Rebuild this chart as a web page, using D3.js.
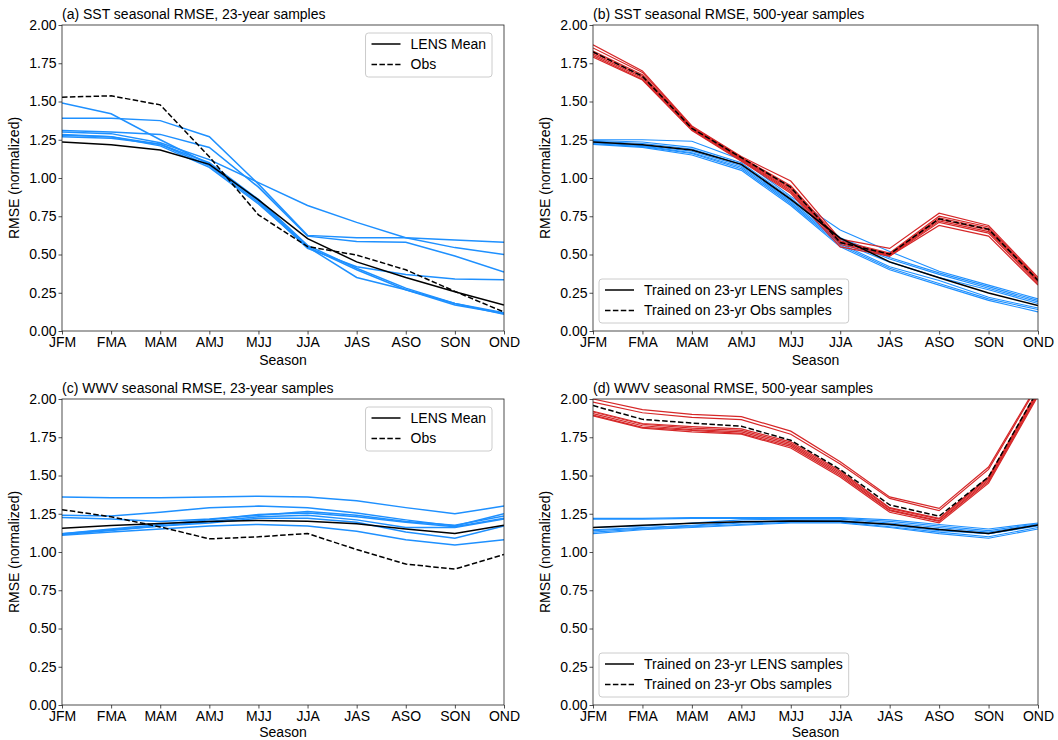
<!DOCTYPE html>
<html>
<head>
<meta charset="utf-8">
<script src="https://cdn.jsdelivr.net/npm/d3@7"></script>
<style>
  body { margin: 0; background: #fff; }
  text { font-family: "Liberation Sans", Arial, sans-serif; }
</style>
</head>
<body>
<div id="chart"></div>
<script>
const seasons = ["JFM", "FMA", "MAM", "AMJ", "MJJ", "JJA", "JAS", "ASO", "SON", "OND"];
const yTicks = [0, 0.25, 0.5, 0.75, 1.0, 1.25, 1.5, 1.75, 2.0];

// (a) SST, 23-year samples
const sst23Lens = [1.235, 1.217, 1.183, 1.089, 0.857, 0.604, 0.452, 0.35, 0.257, 0.17];
const sst23Obs = [1.528, 1.537, 1.478, 1.139, 0.759, 0.552, 0.496, 0.40, 0.259, 0.124];
const sst23Members = [
  [1.49, 1.42, 1.25, 1.09, 0.85, 0.55, 0.35, 0.27, 0.18, 0.11],
  [1.39, 1.39, 1.375, 1.27, 0.96, 0.625, 0.61, 0.61, 0.595, 0.58],
  [1.31, 1.30, 1.285, 1.20, 0.94, 0.62, 0.585, 0.58, 0.49, 0.385],
  [1.30, 1.29, 1.23, 1.12, 0.97, 0.82, 0.71, 0.61, 0.545, 0.50],
  [1.285, 1.27, 1.22, 1.08, 0.84, 0.54, 0.42, 0.37, 0.34, 0.335],
  [1.28, 1.27, 1.21, 1.07, 0.83, 0.55, 0.40, 0.27, 0.17, 0.115],
  [1.27, 1.26, 1.22, 1.10, 0.86, 0.56, 0.41, 0.28, 0.18, 0.12]
];

// (b) SST, 500-year samples
const sst500Lens = [1.235, 1.217, 1.183, 1.089, 0.86, 0.607, 0.452, 0.348, 0.248, 0.167];
const sst500Obs = [1.824, 1.665, 1.324, 1.133, 0.939, 0.578, 0.502, 0.733, 0.665, 0.33];
const sst500LensMembers = [
  [1.25, 1.25, 1.24, 1.12, 0.88, 0.66, 0.52, 0.39, 0.30, 0.21],
  [1.245, 1.235, 1.20, 1.10, 0.87, 0.61, 0.48, 0.38, 0.29, 0.20],
  [1.24, 1.225, 1.19, 1.09, 0.86, 0.60, 0.47, 0.37, 0.28, 0.19],
  [1.235, 1.215, 1.175, 1.08, 0.85, 0.58, 0.45, 0.35, 0.27, 0.18],
  [1.23, 1.21, 1.165, 1.07, 0.84, 0.57, 0.42, 0.33, 0.22, 0.15],
  [1.225, 1.205, 1.16, 1.06, 0.83, 0.56, 0.41, 0.31, 0.21, 0.14],
  [1.22, 1.20, 1.15, 1.05, 0.82, 0.55, 0.40, 0.30, 0.20, 0.125]
];
const sst500ObsMembers = [
  [1.87, 1.70, 1.34, 1.14, 0.98, 0.60, 0.54, 0.77, 0.69, 0.35],
  [1.85, 1.69, 1.335, 1.135, 0.95, 0.59, 0.51, 0.75, 0.68, 0.34],
  [1.83, 1.675, 1.33, 1.13, 0.94, 0.585, 0.505, 0.74, 0.67, 0.335],
  [1.82, 1.665, 1.325, 1.125, 0.93, 0.58, 0.50, 0.73, 0.66, 0.33],
  [1.81, 1.655, 1.32, 1.12, 0.92, 0.575, 0.495, 0.72, 0.65, 0.32],
  [1.80, 1.645, 1.315, 1.115, 0.91, 0.565, 0.49, 0.71, 0.64, 0.31],
  [1.79, 1.64, 1.31, 1.11, 0.90, 0.55, 0.49, 0.69, 0.62, 0.30]
];

// (c) WWV, 23-year samples
const wwv23Lens = [1.156, 1.173, 1.186, 1.199, 1.206, 1.201, 1.184, 1.151, 1.121, 1.175];
const wwv23Obs = [1.277, 1.23, 1.164, 1.086, 1.099, 1.121, 1.016, 0.921, 0.888, 0.984];
const wwv23Members = [
  [1.36, 1.355, 1.355, 1.36, 1.365, 1.36, 1.335, 1.29, 1.25, 1.30],
  [1.24, 1.235, 1.26, 1.29, 1.30, 1.29, 1.255, 1.21, 1.17, 1.25],
  [1.225, 1.215, 1.20, 1.215, 1.24, 1.265, 1.24, 1.20, 1.175, 1.235],
  [1.12, 1.15, 1.18, 1.21, 1.245, 1.255, 1.23, 1.195, 1.165, 1.22],
  [1.115, 1.14, 1.17, 1.20, 1.23, 1.24, 1.21, 1.16, 1.16, 1.215],
  [1.11, 1.13, 1.15, 1.17, 1.18, 1.17, 1.135, 1.08, 1.045, 1.08],
  [1.12, 1.145, 1.17, 1.19, 1.22, 1.22, 1.195, 1.13, 1.09, 1.17]
];

// (d) WWV, 500-year samples
const wwv500Lens = [1.16, 1.175, 1.188, 1.197, 1.203, 1.201, 1.182, 1.147, 1.121, 1.177];
const wwv500Obs = [1.957, 1.867, 1.843, 1.822, 1.73, 1.539, 1.308, 1.234, 1.491, 2.06];
const wwv500LensMembers = [
  [1.22, 1.22, 1.225, 1.225, 1.225, 1.225, 1.21, 1.18, 1.15, 1.19],
  [1.215, 1.215, 1.22, 1.22, 1.22, 1.22, 1.20, 1.17, 1.14, 1.185],
  [1.16, 1.17, 1.19, 1.21, 1.215, 1.215, 1.19, 1.16, 1.13, 1.18],
  [1.145, 1.16, 1.175, 1.195, 1.205, 1.205, 1.18, 1.15, 1.12, 1.175],
  [1.14, 1.155, 1.17, 1.19, 1.20, 1.20, 1.175, 1.14, 1.12, 1.17],
  [1.13, 1.15, 1.165, 1.18, 1.195, 1.195, 1.165, 1.13, 1.10, 1.16],
  [1.12, 1.145, 1.16, 1.175, 1.19, 1.19, 1.16, 1.12, 1.09, 1.15]
];
const wwv500ObsMembers = [
  [2.00, 1.93, 1.90, 1.885, 1.79, 1.59, 1.36, 1.285, 1.555, 2.10],
  [1.98, 1.91, 1.88, 1.865, 1.77, 1.575, 1.35, 1.27, 1.54, 2.09],
  [1.92, 1.84, 1.82, 1.805, 1.72, 1.53, 1.29, 1.22, 1.49, 2.06],
  [1.915, 1.835, 1.81, 1.795, 1.71, 1.52, 1.285, 1.215, 1.48, 2.05],
  [1.905, 1.825, 1.80, 1.785, 1.70, 1.51, 1.275, 1.205, 1.47, 2.04],
  [1.895, 1.815, 1.795, 1.775, 1.69, 1.50, 1.27, 1.20, 1.46, 2.03],
  [1.89, 1.81, 1.785, 1.77, 1.68, 1.49, 1.26, 1.19, 1.45, 2.02]
];

const legend23 = ["LENS Mean", "Obs"];
const legend500 = ["Trained on 23-yr LENS samples", "Trained on 23-yr Obs samples"];

const BLUE = "#1e90ff";
const RED = "#d62728";
const FONT = 14;

const svg = d3.select("#chart").append("svg")
  .attr("width", 1058)
  .attr("height", 740);

const panels = [
  { id: "a", title: "(a) SST seasonal RMSE, 23-year samples", box: [62, 25, 504, 331], xlab: 34,
    blue: sst23Members, red: [], lens: sst23Lens, obs: sst23Obs, legend: legend23, legendPos: "top" },
  { id: "b", title: "(b) SST seasonal RMSE, 500-year samples", box: [593, 25, 1038, 331], xlab: 34,
    blue: sst500LensMembers, red: sst500ObsMembers, lens: sst500Lens, obs: sst500Obs, legend: legend500, legendPos: "bottom" },
  { id: "c", title: "(c) WWV seasonal RMSE, 23-year samples", box: [62, 399, 504, 705], xlab: 32,
    blue: wwv23Members, red: [], lens: wwv23Lens, obs: wwv23Obs, legend: legend23, legendPos: "top" },
  { id: "d", title: "(d) WWV seasonal RMSE, 500-year samples", box: [593, 399, 1038, 705], xlab: 32,
    blue: wwv500LensMembers, red: wwv500ObsMembers, lens: wwv500Lens, obs: wwv500Obs, legend: legend500, legendPos: "bottom" }
];

panels.forEach(drawPanel);

function drawPanel(p) {
  const [x0, y0, x1, y1] = p.box;
  const x = d3.scalePoint().domain(seasons).range([x0, x1]);
  const y = d3.scaleLinear().domain([0, 2]).range([y1, y0]);
  const line = d3.line().x((d, i) => x(seasons[i])).y(d => y(d));

  const g = svg.append("g").attr("id", `panel-${p.id}`);

  g.append("clipPath").attr("id", `clip-${p.id}`)
    .append("rect")
    .attr("x", x0).attr("y", y0)
    .attr("width", x1 - x0).attr("height", y1 - y0);

  const plot = g.append("g").attr("clip-path", `url(#clip-${p.id})`)
    .attr("fill", "none");

  // 成员曲线
  const thin = p.red.length ? 1.1 : 1.5;
  plot.selectAll("path.blue")
    .data(p.blue)
    .join("path")
    .attr("class", "blue")
    .attr("d", line)
    .attr("stroke", BLUE)
    .attr("stroke-width", thin);

  plot.selectAll("path.red")
    .data(p.red)
    .join("path")
    .attr("class", "red")
    .attr("d", line)
    .attr("stroke", RED)
    .attr("stroke-width", 1.2);

  // 平均
  plot.append("path")
    .attr("d", line(p.lens))
    .attr("stroke", "#000")
    .attr("stroke-width", 1.5);
  plot.append("path")
    .attr("d", line(p.obs))
    .attr("stroke", "#000")
    .attr("stroke-width", 1.5)
    .attr("stroke-dasharray", "5.5,2.4");

  // axes
  const xAxis = d3.axisBottom(x).tickSize(3.5).tickPadding(2);
  const yAxis = d3.axisLeft(y).tickValues(yTicks).tickSize(3.5).tickPadding(2)
    .tickFormat(d3.format(".2f"));

  const gx = g.append("g").attr("transform", `translate(0,${y1})`).call(xAxis);
  const gy = g.append("g").attr("transform", `translate(${x0},0)`).call(yAxis);
  [gx, gy].forEach(a => {
    a.select(".domain").remove();
    a.selectAll("line").attr("stroke", "#222").attr("stroke-width", 0.8);
    a.selectAll("text").attr("font-size", FONT).attr("fill", "#000")
      .attr("font-family", "Liberation Sans, Arial, sans-serif");
  });
  gx.selectAll("text").attr("dy", "0.72em");

  g.append("rect")
    .attr("x", x0).attr("y", y0)
    .attr("width", x1 - x0).attr("height", y1 - y0)
    .attr("fill", "none")
    .attr("stroke", "#222")
    .attr("stroke-width", 0.8);

  g.append("text")
    .attr("x", x0)
    .attr("y", y0 - 6)
    .attr("font-size", FONT)
    .text(p.title);

  g.append("text")
    .attr("x", (x0 + x1) / 2)
    .attr("y", y1 + p.xlab)
    .attr("text-anchor", "middle")
    .attr("font-size", FONT)
    .text("Season");

  g.append("text")
    .attr("transform", `translate(${x0 - 43},${(y0 + y1) / 2}) rotate(-90)`)
    .attr("text-anchor", "middle")
    .attr("font-size", FONT)
    .text("RMSE (normalized)");

  drawLegend(g, p, x0, y0, x1, y1);
}

function drawLegend(g, p, x0, y0, x1, y1) {
  const lg = g.append("g");
  const items = lg.selectAll("g.item")
    .data(p.legend)
    .join("g")
    .attr("class", "item")
    .attr("transform", (d, i) => `translate(0,${i * 20.5})`);

  items.append("line")
    .attr("x1", 0).attr("x2", 29)
    .attr("stroke", "#000")
    .attr("stroke-width", 1.5)
    .attr("stroke-dasharray", (d, i) => i === 1 ? "5.5,2.4" : null);
  items.append("text")
    .attr("x", 39)
    .attr("dy", "0.35em")
    .attr("font-size", FONT)
    .text(d => d);

  const w = d3.max(items.nodes(), n => n.getBBox().width);
  const bw = w + 12, bh = 44;
  let bx, by;
  if (p.legendPos === "top") {
    bx = x1 - 12 - bw;
    by = y0 + 8;
  } else {
    bx = x0 + 6;
    by = y1 - 8 - bh;
  }
  lg.insert("rect", ":first-child")
    .attr("x", -6).attr("y", -11)
    .attr("width", bw).attr("height", bh)
    .attr("rx", 3)
    .attr("fill", "#fff")
    .attr("fill-opacity", 0.8)
    .attr("stroke", "#ccc")
    .attr("stroke-width", 1);
  lg.attr("transform", `translate(${bx + 6},${by + 11})`);
}
</script>
</body>
</html>
